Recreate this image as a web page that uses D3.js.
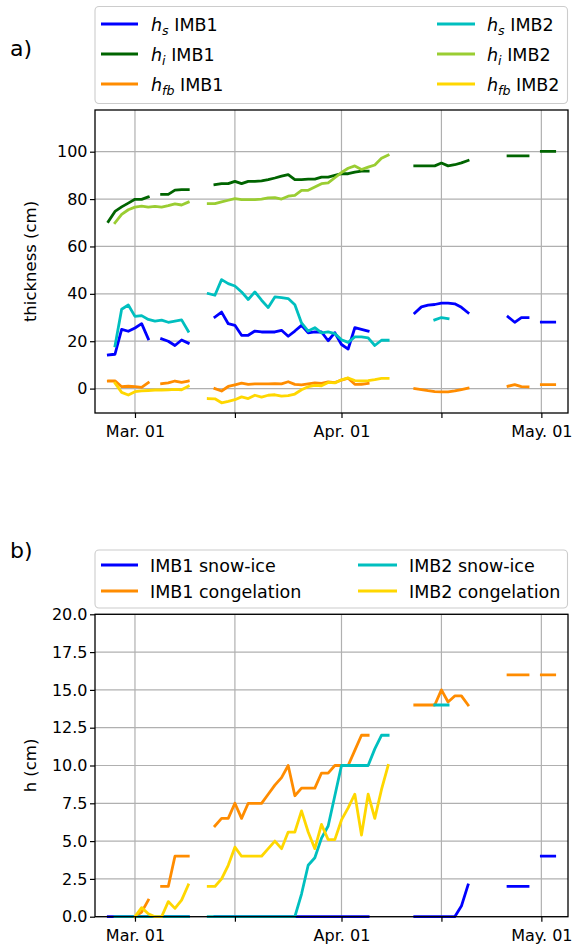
<!DOCTYPE html>
<html><head><meta charset="utf-8">
<script src="https://cdn.jsdelivr.net/npm/d3@7"></script>
<style>
body{margin:0;background:#fff}
text{font-family:"DejaVu Sans",sans-serif;fill:#000}
</style>
</head><body>
<svg id="chart" width="574" height="949"></svg>
<script>
// daily sample dates (2021-02-25 .. 2021-05-03)
const dates = [
 "02-25","02-26","02-27","02-28",
 "03-01","03-02","03-03","03-04","03-05","03-06","03-07","03-08","03-09","03-10",
 "03-11","03-12","03-13","03-14","03-15","03-16","03-17","03-18","03-19","03-20",
 "03-21","03-22","03-23","03-24","03-25","03-26","03-27","03-28","03-29","03-30","03-31",
 "04-01","04-02","04-03","04-04","04-05","04-06","04-07","04-08","04-09","04-10",
 "04-11","04-12","04-13","04-14","04-15","04-16","04-17","04-18","04-19","04-20",
 "04-21","04-22","04-23","04-24","04-25","04-26","04-27","04-28","04-29","04-30",
 "05-01","05-02","05-03"];
const N = null;

// panel a) thickness (cm)
const hsIMB1 = [14.2,14.5,25,24.2,25.6,27.4,21,N,21,20,
 18.2,20.5,19.2,N,N,N,30.2,32.3,27.4,26.7,
 22.5,22.5,24.3,23.9,23.9,23.9,24.6,22.1,24.3,26.7,
 23.5,23.9,23.9,20.2,23.6,18.6,16.7,25.7,25,24.3,
 N,N,N,N,N,N,31.9,34.5,35.2,35.5,
 36.1,36.1,35.8,34.3,32,N,N,N,N,N,
 30.3,28,30,30,N,28.1,28.1,28.1];
const hiIMB1 = [70.5,74.8,76.7,78.3,79.9,79.9,80.9,N,82,82,
 83.8,84,84,N,N,N,86.1,86.5,86.5,87.5,
 86.5,87.5,87.5,87.7,88.2,88.9,89.7,90.3,88.2,88.2,
 88.4,88.4,89.3,89.3,90,90.7,90.7,91.4,91.8,91.8,
 N,N,N,N,N,N,94,94,94,94,
 95.2,94,94.5,95.3,96.3,N,N,N,N,N,
 98.2,98.2,98.2,98.2,N,100.1,100.1,100.1];
const hfbIMB1 = [3.2,3.3,0.8,1,0.8,0.5,2.5,N,2.1,2.4,
 3.2,2.6,3.2,N,N,N,0,-1,0.9,1.6,
 2.3,1.8,2,2,2,2.1,2,2.9,1.8,1.6,
 2,2.4,2.2,2.8,2.5,3.6,4.4,1.8,1.8,2.2,
 N,N,N,N,N,N,0,-0.4,-0.9,-1.3,
 -1.4,-1.4,-1,-0.4,0.2,N,N,N,N,N,
 1,1.7,0.8,0.7,N,1.7,1.7,1.7];
const hsIMB2 = [N,18,33.5,35.3,30.5,30.8,29.2,28.5,28.9,28,
 28.5,29,24.2,N,N,40.1,39.4,46,44.3,43.3,
 40.8,37.6,40.8,37.3,34.2,38.7,38.4,38,35.4,27.7,
 24.3,25.7,23.5,23.9,23.2,20.6,19.5,21.8,21.8,21.4,
 18.2,20.4,20.4,N,N,N,N,N,N,29,
 30,29.5,N,N,N,N,N,N,N,N,
 N,N,N,N,N,N,N,N];
const hiIMB2 = [N,70,73.5,75.5,76.6,77,76.6,76.9,76.6,77.2,
 78,77.5,78.7,N,N,78.1,78.1,78.8,79.5,80.2,
 79.8,79.8,79.8,80,80.5,80.6,80,81.2,81.6,83.7,
 83.7,85.1,86.5,86.8,89,91.2,93,94,92.5,93.5,
 94.4,97.2,98.6,N,N,N,N,N,N,N,
 N,N,N,N,N,N,N,N,N,N,
 N,N,N,N,N,N,N,N];
const hfbIMB2 = [N,2.3,-1.6,-2.7,-1.3,-1,-0.8,-0.6,-0.6,-0.5,
 -0.3,-0.5,1,N,N,-4.2,-4.3,-6,-5.4,-4.7,
 -3.5,-4.2,-2.8,-3.6,-2.8,-2.6,-3.2,-3,-2.3,-0.5,
 0.8,1.4,1.2,2.6,2.4,3.7,4.5,3.4,3.2,3.4,
 3.8,4.3,4.3,N,N,N,N,N,N,N,
 N,N,N,N,N,N,N,N,N,N,
 N,N,N,N,N,N,N,N];

// panel b) h (cm)
const snowIceIMB1 = [0,0,0,0,0,0,0,N,0,0,
 0,0,0,N,N,N,0,0,0,0,
 0,0,0,0,0,0,0,0,0,0,
 0,0,0,0,0,0,0,0,0,0,
 N,N,N,N,N,N,0,0,0,0,
 0,0,0,0.7,2.1,N,N,N,N,N,
 2,2,2,2,N,4,4,4];
const congIMB1 = [N,N,N,N,0,0.3,1.1,N,2,2,
 4,4,4,N,N,N,6,6.5,6.5,7.5,
 6.5,7.5,7.5,7.5,8.1,8.7,9.2,10,8,8.5,
 8.5,8.5,9.5,9.5,10,10,10,11,12,12,
 N,N,N,N,N,N,14,14,14,14,
 15,14.2,14.6,14.6,14,N,N,N,N,N,
 16,16,16,16,N,16,16,16];
const snowIceIMB2 = [N,0,0,0,0,0,0,0,0,0,
 0,0,0,N,N,0,0,0,0,0,
 0,0,0,0,0,0,0,0,0,1.5,
 3.4,3.9,5.2,6,8,10,10,10,10,10,
 11.1,12,12,N,N,N,N,N,N,14,
 14,14,N,N,N,N,N,N,N,N,
 N,N,N,N,N,N,N,N];
const congIMB2 = [N,N,N,N,0,0.6,0.2,0,0,1,
 0.55,1.1,2.1,N,N,2,2,2.5,3.4,4.6,
 4,4,4,4,4.5,5,4.5,5.6,5.6,7,
 5.6,4.5,6.1,5.1,5.1,6.4,7.2,8.1,5.4,8.1,
 6.5,8.4,10,N,N,N,N,N,N,N,
 N,N,N,N,N,N,N,N,N,N,
 N,N,N,N,N,N,N,N];

const xTicks = ["03-01","03-16","04-01","04-16","05-01"];
const yTicksA = [0,20,40,60,80,100];
const yTicksB = [0,2.5,5,7.5,10,12.5,15,17.5,20];

const seriesA = [
 {label:["h","s"," IMB1"], data:hsIMB1, color:"#0000ff"},
 {label:["h","i"," IMB1"], data:hiIMB1, color:"#006400"},
 {label:["h","fb"," IMB1"], data:hfbIMB1, color:"#ff8c00"},
 {label:["h","s"," IMB2"], data:hsIMB2, color:"#00bfbf"},
 {label:["h","i"," IMB2"], data:hiIMB2, color:"#9acd32"},
 {label:["h","fb"," IMB2"], data:hfbIMB2, color:"#ffd700"}
];
const seriesB = [
 {label:"IMB1 snow-ice", data:snowIceIMB1, color:"#0000ff"},
 {label:"IMB1 congelation", data:congIMB1, color:"#ff8c00"},
 {label:"IMB2 snow-ice", data:snowIceIMB2, color:"#00bfbf"},
 {label:"IMB2 congelation", data:congIMB2, color:"#ffd700"}
];

const parse = s => new Date(2021, +s.slice(0,2)-1, +s.slice(3,5));
const X = dates.map(parse);
const svg = d3.select("#chart");
const fmt = d3.timeFormat("%b. %d");
const LW = 2.8, LEGFS = 17.5;

function panel(o){
  const x = d3.scaleTime().domain([new Date(2021,1,23), new Date(2021,4,5)]).range([o.left, o.right]);
  const y = d3.scaleLinear().domain(o.ydom).range([o.bottom, o.top]);
  const g = svg.append("g");
  g.selectAll(".gx").data(xTicks.map(parse)).join("line")
    .attr("x1",d=>x(d)).attr("x2",d=>x(d)).attr("y1",o.top).attr("y2",o.bottom)
    .attr("stroke","#b0b0b0").attr("stroke-width",1.2);
  g.selectAll(".gy").data(o.yticks).join("line")
    .attr("x1",o.left).attr("x2",o.right).attr("y1",d=>y(d)).attr("y2",d=>y(d))
    .attr("stroke","#b0b0b0").attr("stroke-width",1.2);
  const line = d3.line().defined(d=>d[1]!=null).x(d=>x(d[0])).y(d=>y(d[1]));
  o.series.forEach(s=>{
    g.append("path").datum(X.map((t,i)=>[t,s.data[i]]))
     .attr("d",line).attr("fill","none").attr("stroke",s.color)
     .attr("stroke-width",LW).attr("stroke-linejoin","round").attr("stroke-linecap","square");
  });
  const ax = g.append("g").attr("transform",`translate(0,${o.bottom})`)
    .call(d3.axisBottom(x).tickValues(xTicks.map(parse)).tickSize(5).tickPadding(8)
      .tickFormat(d=>d.getDate()===1?fmt(d):""));
  const ay = g.append("g").attr("transform",`translate(${o.left},0)`)
    .call(d3.axisLeft(y).tickValues(o.yticks).tickSize(5).tickPadding(2.5).tickFormat(o.yfmt));
  [ax,ay].forEach(a=>{
    a.select(".domain").remove();
    a.selectAll("line").attr("stroke","#000").attr("stroke-width",1.2);
    a.selectAll("text").attr("font-size",16).attr("font-family","DejaVu Sans").attr("fill","#000");
  });
  g.append("rect").attr("x",o.left).attr("y",o.top).attr("width",o.right-o.left).attr("height",o.bottom-o.top)
    .attr("fill","none").attr("stroke","#000").attr("stroke-width",1.3);
  g.append("text").attr("transform",`translate(36,${(o.top+o.bottom)/2}) rotate(-90)`)
    .attr("text-anchor","middle").attr("font-size",16.5).text(o.ylabel);
  return {x,y};
}

panel({left:95,right:568,top:110,bottom:413,ydom:[-10.3,117.6],yticks:yTicksA,
  yfmt:d3.format("d"),series:seriesA,ylabel:"thickness (cm)"});
panel({left:95,right:568,top:614.3,bottom:916.7,ydom:[0,20],yticks:yTicksB,
  yfmt:d3.format(".1f"),series:seriesB,ylabel:"h (cm)"});

svg.append("text").attr("x",10).attr("y",56).attr("font-size",22).text("a)");
svg.append("text").attr("x",10).attr("y",558).attr("font-size",22).text("b)");

function legendBox(x0,y0,x1,y1){
  svg.append("rect").attr("x",x0).attr("y",y0).attr("width",x1-x0).attr("height",y1-y0)
    .attr("rx",4).attr("fill","#fff").attr("fill-opacity",0.8).attr("stroke","#cccccc").attr("stroke-width",1.1);
}
legendBox(95,6.5,567.5,103.5);
const colA = [[101,138,151],[437,475,487]];
const rowsA = [24,54,84];
seriesA.forEach((s,i)=>{
  const c = colA[Math.floor(i/3)], yy = rowsA[i%3];
  svg.append("line").attr("x1",c[0]).attr("x2",c[1]).attr("y1",yy).attr("y2",yy)
    .attr("stroke",s.color).attr("stroke-width",LW);
  const t = svg.append("text").attr("x",c[2]).attr("y",yy+6.5).attr("font-size",LEGFS);
  t.append("tspan").attr("font-style","italic").text(s.label[0]);
  t.append("tspan").attr("font-style","italic").attr("font-size",LEGFS*0.72).attr("dy",4).text(s.label[1]);
  t.append("tspan").attr("dy",-4).text(s.label[2]);
});

legendBox(95,550,567.5,608);
const colB = [[101,138,150],[358,397,409]];
const rowsB = [565,591];
seriesB.forEach((s,i)=>{
  const c = colB[Math.floor(i/2)], yy = rowsB[i%2];
  svg.append("line").attr("x1",c[0]).attr("x2",c[1]).attr("y1",yy).attr("y2",yy)
    .attr("stroke",s.color).attr("stroke-width",LW);
  svg.append("text").attr("x",c[2]).attr("y",yy+6.5).attr("font-size",LEGFS).text(s.label);
});
</script>
</body></html>
